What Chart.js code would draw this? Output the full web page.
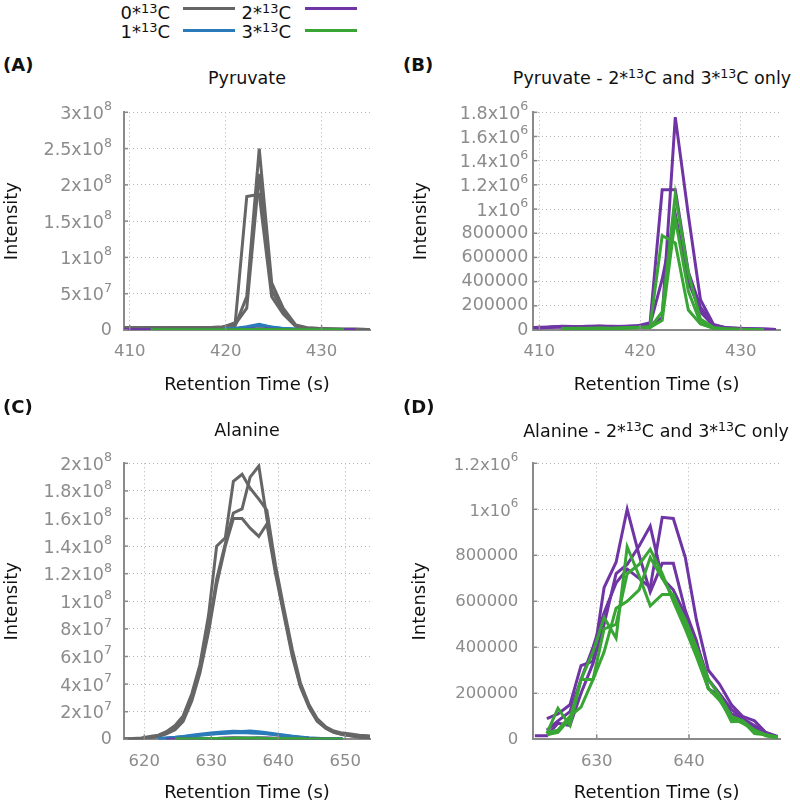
<!DOCTYPE html>
<html>
<head>
<meta charset="utf-8">
<script src="https://cdn.jsdelivr.net/npm/chart.js@4.4.1/dist/chart.umd.min.js"></script>
<style>
  html, body { margin: 0; padding: 0; background: #fff; }
  body { position: relative; width: 800px; height: 805px; overflow: hidden; font-family: "DejaVu Sans", sans-serif; color: #111; }
  canvas { position: absolute; }
  .c { position: absolute; transform: translate(-50%, -50%); white-space: nowrap; line-height: 1; font-size: 17.5px; }
  .lab { position: absolute; white-space: nowrap; line-height: 1; font-size: 18px; font-weight: bold; transform: translateY(-50%); }
  .leg { position: absolute; white-space: nowrap; line-height: 1; font-size: 18px; text-align: right; transform: translateY(-50%); }
  .sw { position: absolute; height: 3px; width: 52px; }
  sup { font-size: 0.72em; vertical-align: 0.5em; line-height: 0; }
</style>
</head>
<body>
<!-- legend -->
<div class="leg" style="right:630px;top:13px">0*<sup>13</sup>C</div>
<div class="sw" style="left:183px;top:7px;background:#666666"></div>
<div class="leg" style="right:509px;top:13px">2*<sup>13</sup>C</div>
<div class="sw" style="left:305px;top:7px;background:#6f35a5"></div>
<div class="leg" style="right:630px;top:32px">1*<sup>13</sup>C</div>
<div class="sw" style="left:183px;top:29px;background:#2b7bba"></div>
<div class="leg" style="right:509px;top:32px">3*<sup>13</sup>C</div>
<div class="sw" style="left:305px;top:29px;background:#38a534"></div>

<canvas id="cA" width="400" height="310" style="left:0;top:90px"></canvas>
<canvas id="cB" width="400" height="310" style="left:400px;top:90px"></canvas>
<canvas id="cC" width="400" height="385" style="left:0;top:420px"></canvas>
<canvas id="cD" width="400" height="385" style="left:400px;top:420px"></canvas>

<div class="lab" style="left:3px;top:65px">(A)</div>
<div class="lab" style="left:403px;top:65px">(B)</div>
<div class="lab" style="left:3px;top:407px">(C)</div>
<div class="lab" style="left:403px;top:407px">(D)</div>

<div class="c" style="left:247px;top:79px">Pyruvate</div>
<div class="c" style="left:652px;top:79px">Pyruvate - 2*<sup>13</sup>C and 3*<sup>13</sup>C only</div>
<div class="c" style="left:247px;top:431px">Alanine</div>
<div class="c" style="left:656px;top:432px">Alanine - 2*<sup>13</sup>C and 3*<sup>13</sup>C only</div>

<script>
// ---------------- DATA ----------------
// Pyruvate retention times (s)
const pyrTime = [409.4, 410.9, 412.2, 413.4, 414.7, 416.0, 417.2, 418.5, 419.7, 421.0, 422.2, 423.5, 424.8, 426.0, 427.3, 428.5, 429.8, 431.0, 432.3, 433.5, 434.8, 436.0];
// Pyruvate 0*13C (three replicates)
const pyrM0_r1 = [3.0e6, 3.0e6, 3.2e6, 3.0e6, 3.1e6, 3.3e6, 3.2e6, 3.4e6, 4.0e6, 6.0e6, 4.6e7, 2.50e8, 6.5e7, 3.0e7, 7.0e6, 3.0e6, 2.0e6, 1.5e6, 1.2e6, 1.0e6, 0.8e6, 0.7e6];
const pyrM0_r2 = [2.8e6, 2.9e6, 3.0e6, 3.0e6, 2.9e6, 3.1e6, 3.0e6, 3.2e6, 3.8e6, 1.0e7, 1.84e8, 1.87e8, 4.6e7, 2.2e7, 5.0e6, 2.5e6, 1.8e6, 1.3e6, 1.1e6, 0.9e6, 0.8e6, 0.6e6];
const pyrM0_r3 = [3.2e6, 3.1e6, 3.3e6, 3.2e6, 3.3e6, 3.4e6, 3.3e6, 3.5e6, 4.2e6, 8.0e6, 3.0e7, 2.15e8, 5.5e7, 2.6e7, 6.0e6, 2.8e6, 1.9e6, 1.4e6, 1.1e6, 1.0e6, 0.8e6, 0.7e6];
// Pyruvate 1*13C
const pyrM1_r1 = [null, 6e5, 6e5, 6e5, 7e5, 7e5, 7e5, 8e5, 1.0e6, 2.0e6, 4.5e6, 8.0e6, 4.0e6, 2.0e6, 1.0e6, 7e5, 6e5, 5e5, 5e5, 4e5, null, null];
const pyrM1_r2 = [null, 5e5, 5e5, 6e5, 6e5, 6e5, 7e5, 7e5, 9e5, 1.8e6, 3.5e6, 6.5e6, 3.5e6, 1.8e6, 9e5, 6e5, 5e5, 5e5, 4e5, 4e5, null, null];
const pyrM1_r3 = [null, 5e5, 6e5, 6e5, 6e5, 7e5, 7e5, 7e5, 1.0e6, 2.2e6, 3.0e6, 7.0e6, 3.8e6, 1.9e6, 1.0e6, 6e5, 5e5, 4e5, 4e5, 3e5, null, null];
// Pyruvate 2*13C
const pyrM2_r1 = [2.0e4, 2.4e4, 2.8e4, 2.5e4, 3.0e4, 3.4e4, 2.6e4, 3.0e4, 3.5e4, 4.0e4, 1.0e5, 1.76e6, 9.5e5, 2.5e5, 4.5e4, 2.0e4, 1.4e4, 1.0e4, 8.0e3, 5.0e3, null, null];
const pyrM2_r2 = [1.8e4, 2.2e4, 3.0e4, 2.8e4, 2.7e4, 3.2e4, 3.0e4, 2.8e4, 3.3e4, 6.0e4, 1.16e6, 1.16e6, 4.8e5, 1.9e5, 4.0e4, 1.8e4, 1.2e4, 9.0e3, 7.0e3, 5.0e3, null, null];
const pyrM2_r3 = [1.5e4, 2.0e4, 2.5e4, 2.2e4, 2.6e4, 2.8e4, 2.4e4, 2.7e4, 3.0e4, 4.5e4, 4.2e5, 9.6e5, 4.0e5, 1.5e5, 3.5e4, 1.5e4, 1.0e4, 8.0e3, 6.0e3, 4.0e3, null, null];
// Pyruvate 3*13C
const pyrM3_r1 = [null, null, 1.0e4, 1.2e4, 1.4e4, 1.5e4, 1.3e4, 1.6e4, 2.0e4, 2.0e4, 1.5e5, 1.12e6, 4.7e5, 9.0e4, 2.0e4, 1.0e4, 6.0e3, 4.0e3, 3.0e3, null, null, null];
const pyrM3_r2 = [null, null, 1.2e4, 1.4e4, 1.2e4, 1.6e4, 1.5e4, 1.8e4, 2.2e4, 2.0e4, 8.0e4, 9.2e5, 3.2e5, 6.0e4, 1.5e4, 8.0e3, 5.0e3, 3.0e3, 2.0e3, null, null, null];
const pyrM3_r3 = [null, null, 8.0e3, 1.0e4, 1.2e4, 1.3e4, 1.2e4, 1.4e4, 1.8e4, 3.0e4, 7.8e5, 7.2e5, 1.65e5, 5.0e4, 1.5e4, 8.0e3, 5.0e3, 3.0e3, 2.0e3, null, null, null];

// Alanine retention times (s)
const alaTime = [617.0, 618.3, 619.6, 620.8, 622.1, 623.3, 624.6, 625.8, 627.1, 628.3, 629.6, 630.8, 632.1, 633.3, 634.6, 635.8, 637.1, 638.3, 639.6, 640.8, 642.1, 643.3, 644.6, 645.8, 647.1, 648.3, 649.6, 650.8, 652.1, 653.3, 654.6];
// Alanine 0*13C
const alaM0_r1 = [2e5, 5e5, 1.0e6, 2.0e6, 3.0e6, 5.5e6, 1.0e7, 1.7e7, 3.3e7, 5.4e7, 9.0e7, 1.40e8, 1.46e8, 1.87e8, 1.92e8, 1.82e8, 1.74e8, 1.66e8, 1.26e8, 9.6e7, 6.5e7, 4.1e7, 2.5e7, 1.5e7, 9.0e6, 6.0e6, 4.5e6, 3.8e6, 3.0e6, 2.5e6, 2.0e6];
const alaM0_r2 = [2e5, 4e5, 8e5, 1.5e6, 2.5e6, 4.5e6, 8.0e6, 1.5e7, 3.0e7, 5.0e7, 8.0e7, 1.16e8, 1.42e8, 1.64e8, 1.67e8, 1.90e8, 1.98e8, 1.60e8, 1.22e8, 9.3e7, 6.2e7, 3.9e7, 2.4e7, 1.4e7, 8.0e6, 5.0e6, 3.5e6, 2.5e6, 1.8e6, 1.2e6, 8e5];
const alaM0_r3 = [2e5, 3e5, 6e5, 1.2e6, 2.0e6, 4.0e6, 7.0e6, 1.3e7, 2.8e7, 4.8e7, 7.8e7, 1.12e8, 1.40e8, 1.60e8, 1.60e8, 1.53e8, 1.47e8, 1.56e8, 1.20e8, 9.1e7, 6.0e7, 3.8e7, 2.3e7, 1.3e7, 8.0e6, 5.0e6, 3.5e6, 2.5e6, 1.5e6, 1.0e6, 7e5];
// Alanine 1*13C
const alaM1_r1 = [null, null, null, null, 5e5, 1.0e6, 1.5e6, 2.1e6, 2.9e6, 3.7e6, 4.4e6, 5.0e6, 5.5e6, 5.9e6, 5.6e6, 6.0e6, 5.5e6, 4.7e6, 3.9e6, 3.1e6, 2.3e6, 1.6e6, 1.0e6, 7e5, 4e5, 3e5, 2e5, null, null, null, null];
const alaM1_r2 = [null, null, null, null, 4e5, 8e5, 1.3e6, 1.8e6, 2.5e6, 3.2e6, 3.8e6, 4.3e6, 4.8e6, 5.0e6, 5.1e6, 5.0e6, 4.8e6, 4.2e6, 3.4e6, 2.7e6, 2.0e6, 1.4e6, 9e5, 6e5, 3.5e5, 2.5e5, 1.5e5, null, null, null, null];
const alaM1_r3 = [null, null, null, null, 3e5, 7e5, 1.1e6, 1.6e6, 2.2e6, 2.9e6, 3.5e6, 4.0e6, 4.4e6, 4.7e6, 4.9e6, 4.6e6, 4.4e6, 4.0e6, 3.2e6, 2.5e6, 1.8e6, 1.3e6, 8e5, 5e5, 3e5, 2e5, 1e5, null, null, null, null];
// Alanine 2*13C
const alaM2_r1 = [null, null, null, null, null, null, 9.0e4, 1.1e5, 1.5e5, 3.2e5, 3.4e5, 6.6e5, 7.7e5, 1.00e6, 8.0e5, 6.4e5, 7.65e5, 7.65e5, 5.6e5, 4.3e5, 2.2e5, 1.9e5, 1.1e5, 9.0e4, 5.0e4, 2.5e4, 1.0e4, null, null, null, null];
const alaM2_r2 = [null, null, null, null, null, 1.5e4, 1.5e4, 7.0e4, 6.0e4, 2.0e5, 3.3e5, 5.0e5, 7.2e5, 7.6e5, 8.4e5, 9.27e5, 7.0e5, 6.5e5, 5.4e5, 4.2e5, 2.6e5, 2.0e5, 1.3e5, 9.0e4, 6.0e4, 3.0e4, 1.2e4, null, null, null, null];
const alaM2_r3 = [null, null, null, null, null, null, 4.0e4, 8.0e4, 1.2e5, 2.6e5, 4.0e5, 5.5e5, 6.8e5, 7.4e5, 7.0e5, 6.6e5, 9.65e5, 9.6e5, 7.9e5, 5.2e5, 3.0e5, 2.4e5, 1.5e5, 1.0e5, 8.0e4, 3.0e4, 1.0e4, null, null, null, null];
// Alanine 3*13C
const alaM3_r1 = [null, null, null, null, null, null, 2.6e4, 1.35e5, 6.0e4, 2.6e5, 3.8e5, 5.3e5, 4.4e5, 8.37e5, 7.1e5, 5.8e5, 6.3e5, 6.3e5, 5.0e5, 3.8e5, 2.2e5, 1.8e5, 7.7e4, 8.0e4, 2.5e4, 2.0e4, 1.0e4, null, null, null, null];
const alaM3_r2 = [null, null, null, null, null, null, 3.0e4, 4.0e4, 1.0e5, 1.4e5, 2.6e5, 4.8e5, 5.0e5, 7.2e5, 7.6e5, 8.26e5, 7.2e5, 6.0e5, 4.8e5, 3.6e5, 2.2e5, 1.7e5, 9.0e4, 7.0e4, 4.0e4, 1.5e4, 5.0e3, null, null, null, null];
const alaM3_r3 = [null, null, null, null, null, null, 2.0e4, 3.0e4, 9.0e4, 2.6e5, 2.6e5, 3.8e5, 5.7e5, 6.0e5, 6.5e5, 7.9e5, 7.0e5, 6.2e5, 5.2e5, 4.0e5, 2.6e5, 1.9e5, 1.0e5, 8.0e4, 4.0e4, 2.0e4, 1.0e4, null, null, null, null];

// Tick values and labels
const xTicksPyr = [410, 420, 430];
const xLabelsPyr = ["410", "420", "430"];
const xTicksAlaC = [620, 630, 640, 650];
const xLabelsAlaC = ["620", "630", "640", "650"];
const xTicksAlaD = [630, 640];
const xLabelsAlaD = ["630", "640"];
const yTicksA = [0, 5e7, 1e8, 1.5e8, 2e8, 2.5e8, 3e8];
const yLabelsA = ["0", "5x10^7", "1x10^8", "1.5x10^8", "2x10^8", "2.5x10^8", "3x10^8"];
const yTicksB = [0, 2e5, 4e5, 6e5, 8e5, 1e6, 1.2e6, 1.4e6, 1.6e6, 1.8e6];
const yLabelsB = ["0", "200000", "400000", "600000", "800000", "1x10^6", "1.2x10^6", "1.4x10^6", "1.6x10^6", "1.8x10^6"];
const yTicksC = [0, 2e7, 4e7, 6e7, 8e7, 1e8, 1.2e8, 1.4e8, 1.6e8, 1.8e8, 2e8];
const yLabelsC = ["0", "2x10^7", "4x10^7", "6x10^7", "8x10^7", "1x10^8", "1.2x10^8", "1.4x10^8", "1.6x10^8", "1.8x10^8", "2x10^8"];
const yTicksD = [0, 2e5, 4e5, 6e5, 8e5, 1e6, 1.2e6];
const yLabelsD = ["0", "200000", "400000", "600000", "800000", "1x10^6", "1.2x10^6"];

// ---------------- STYLE ----------------
const FONT = '"DejaVu Sans", sans-serif';
const COL = { m0: '#666666', m1: '#2b7bba', m2: '#6f35a5', m3: '#38a534' };
const AXIS = '#8a8a8a';
const TICKTXT = '#8c8c8c';

function drawLabel(ctx, text, x, y, size, align) {
  const parts = String(text).split('^');
  const base = parts[0], exp = parts[1];
  const es = size * 0.72;
  ctx.font = size + 'px ' + FONT;
  const wb = ctx.measureText(base).width;
  let we = 0;
  if (exp) { ctx.font = es + 'px ' + FONT; we = ctx.measureText(exp).width; }
  const total = wb + we;
  const x0 = align === 'right' ? x - total : x - total / 2;
  ctx.textAlign = 'left';
  ctx.textBaseline = 'middle';
  const yb = exp ? y + 2 : y;
  ctx.font = size + 'px ' + FONT;
  ctx.fillText(base, x0, yb);
  if (exp) {
    ctx.font = es + 'px ' + FONT;
    ctx.fillText(exp, x0 + wb, yb - size * 0.42);
  }
}

const supTicks = {
  id: 'supTicks',
  afterDraw(chart, args, o) {
    const ctx = chart.ctx, xs = chart.scales.x, ys = chart.scales.y, ca = chart.chartArea;
    ctx.save();
    ctx.strokeStyle = AXIS;
    ctx.lineWidth = 1.5;
    xs.ticks.forEach(t => {
      const px = xs.getPixelForValue(t.value);
      ctx.beginPath(); ctx.moveTo(px, ca.bottom); ctx.lineTo(px, ca.bottom - 5); ctx.stroke();
    });
    ys.ticks.forEach(t => {
      const py = ys.getPixelForValue(t.value);
      ctx.beginPath(); ctx.moveTo(ca.left, py); ctx.lineTo(ca.left + 4, py); ctx.stroke();
    });
    ctx.fillStyle = TICKTXT;
    ys.ticks.forEach((t, i) => drawLabel(ctx, o.yLabels[i], ca.left - o.yGap, ys.getPixelForValue(t.value), o.ySize, 'right'));
    xs.ticks.forEach((t, i) => drawLabel(ctx, o.xLabels[i], xs.getPixelForValue(t.value), ca.bottom + o.xGap, o.xSize, 'center'));
    ctx.restore();
  }
};

function pts(times, vals) { return times.map((t, i) => ({ x: t, y: vals[i] })); }

function series(times, list, color, order) {
  return list.map(v => ({ data: pts(times, v), borderColor: color, borderWidth: 3, pointRadius: 0, tension: 0, fill: false, order: order }));
}

function makeChart(id, p) {
  return new Chart(document.getElementById(id), {
    type: 'line',
    data: { datasets: p.datasets },
    plugins: [supTicks],
    options: {
      responsive: false, animation: false, devicePixelRatio: 1,
      layout: { padding: { top: p.padTop, right: p.padRight, left: 0, bottom: 0 } },
      plugins: {
        legend: { display: false }, tooltip: { enabled: false }, title: { display: false },
        supTicks: { yLabels: p.yLabels, xLabels: p.xLabels, yGap: p.yGap, xGap: 22, ySize: p.ySize, xSize: p.xSize }
      },
      scales: {
        x: {
          type: 'linear', min: p.xMin, max: p.xMax,
          afterBuildTicks: s => { s.ticks = p.xTicks.map(v => ({ value: v })); },
          afterFit: s => { s.height = p.xHeight; },
          grid: { color: '#b4b4b4', lineWidth: 1, drawTicks: false },
          border: { display: true, color: AXIS, width: 2, dash: [1, 3] },
          ticks: { display: false },
          title: { display: true, text: 'Retention Time (s)', color: '#111', font: { family: FONT, size: 18 }, padding: { top: 0, bottom: p.xTitlePad } }
        },
        y: {
          type: 'linear', min: 0, max: p.yMax,
          afterBuildTicks: s => { s.ticks = p.yTicks.map(v => ({ value: v })); },
          afterFit: s => { s.width = p.yWidth; },
          grid: { color: '#b4b4b4', lineWidth: 1, drawTicks: false },
          border: { display: true, color: AXIS, width: 2, dash: [1, 3] },
          ticks: { display: false },
          title: { display: true, text: 'Intensity', color: '#111', font: { family: FONT, size: 18 }, padding: { top: p.yTitlePad, bottom: 0 } }
        }
      }
    }
  });
}

makeChart('cA', {
  datasets: [].concat(
    series(pyrTime, [pyrM0_r1, pyrM0_r2, pyrM0_r3], COL.m0, 4),
    series(pyrTime, [pyrM1_r1, pyrM1_r2, pyrM1_r3], COL.m1, 3),
    series(pyrTime, [pyrM2_r1, pyrM2_r2, pyrM2_r3], COL.m2, 2),
    series(pyrTime, [pyrM3_r1, pyrM3_r2, pyrM3_r3], COL.m3, 1)),
  xMin: 409.4, xMax: 435.05, xTicks: xTicksPyr, xLabels: xLabelsPyr,
  yMax: 3e8, yTicks: yTicksA, yLabels: yLabelsA,
  padTop: 22.3, padRight: 30, yWidth: 124, xHeight: 70, yGap: 12, ySize: 17.5, xSize: 16.5,
  xTitlePad: 4.2, yTitlePad: 1.2
});

makeChart('cB', {
  datasets: [].concat(
    series(pyrTime, [pyrM2_r1, pyrM2_r2, pyrM2_r3], COL.m2, 2),
    series(pyrTime, [pyrM3_r1, pyrM3_r2, pyrM3_r3], COL.m3, 1)),
  xMin: 409.4, xMax: 433.9, xTicks: xTicksPyr, xLabels: xLabelsPyr,
  yMax: 1.8e6, yTicks: yTicksB, yLabels: yLabelsB,
  padTop: 22.3, padRight: 20, yWidth: 133.3, xHeight: 70, yGap: 5, ySize: 17.5, xSize: 16.5,
  xTitlePad: 4.2, yTitlePad: 10.9
});

makeChart('cC', {
  datasets: [].concat(
    series(alaTime, [alaM0_r1, alaM0_r2, alaM0_r3], COL.m0, 4),
    series(alaTime, [alaM1_r1, alaM1_r2, alaM1_r3], COL.m1, 3),
    series(alaTime, [alaM2_r1, alaM2_r2, alaM2_r3], COL.m2, 2),
    series(alaTime, [alaM3_r1, alaM3_r2, alaM3_r3], COL.m3, 1)),
  xMin: 616.97, xMax: 653.7, xTicks: xTicksAlaC, xLabels: xLabelsAlaC,
  yMax: 2e8, yTicks: yTicksC, yLabels: yLabelsC,
  padTop: 43.3, padRight: 30, yWidth: 124, xHeight: 65.7, yGap: 12, ySize: 17.5, xSize: 16.5,
  xTitlePad: 1.2, yTitlePad: 1.2
});

makeChart('cD', {
  datasets: [].concat(
    series(alaTime, [alaM2_r1, alaM2_r2, alaM2_r3], COL.m2, 2),
    series(alaTime, [alaM3_r1, alaM3_r2, alaM3_r3], COL.m3, 1)),
  xMin: 623.13, xMax: 649.86, xTicks: xTicksAlaD, xLabels: xLabelsAlaD,
  yMax: 1.2e6, yTicks: yTicksD, yLabels: yLabelsD,
  padTop: 43.3, padRight: 20, yWidth: 133.3, xHeight: 65.7, yGap: 15, ySize: 16.5, xSize: 16.5,
  xTitlePad: 1.2, yTitlePad: 9.2
});
</script>
</body>
</html>
